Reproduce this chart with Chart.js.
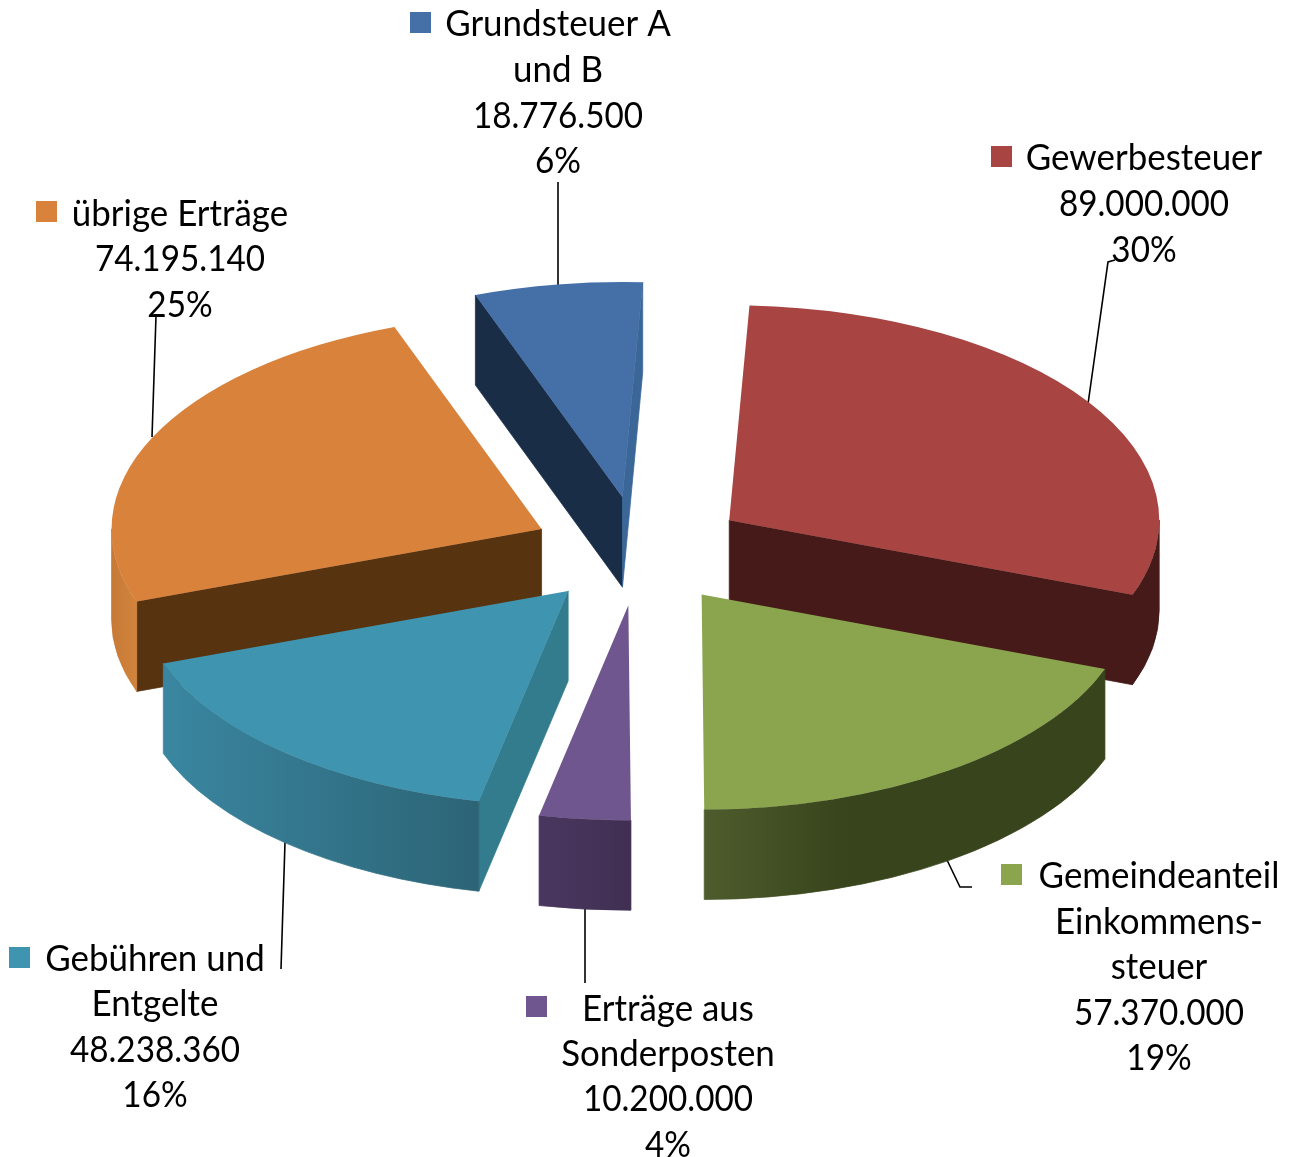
<!DOCTYPE html>
<html lang="de"><head><meta charset="utf-8">
<style>html,body{margin:0;padding:0;background:#fff}canvas{display:block}</style>
<script src="https://cdn.jsdelivr.net/npm/chart.js@4"></script>
</head><body><canvas id="c" width="1295" height="1157"></canvas>
<script>
// ---- data ----
const categories = ["Gewerbesteuer","Gemeindeanteil Einkommenssteuer","Erträge aus Sonderposten","Gebühren und Entgelte","übrige Erträge","Grundsteuer A und B"];
const values = [89000000,57370000,10200000,48238360,74195140,18776500];
const percents = ["30%","19%","4%","16%","25%","6%"];
// ---- styling ----
const topColors = ["#A84442","#8AA54D","#70568F","#3F94AF","#D8823C","#4470A7"];
const startWallColors = [null,null,null,"#327C8E","#57330F","#1A2D47"];
const endWallColors = ["#451A18",null,null,null,null,"#3A6698"];
const rimLeftColors = ["#451A18","#4E5C2D","#4A3760","#3A86A0","#C67A35","#1A2D47"];
const rimRightColors = ["#451A18","#38441C","#402F52","#2C6476","#D2843E","#1A2D47"];
const rimSettle = [1,0.35,1,1,1,1]; // fraction of the rim width over which the colour shift happens
const explode = [110,110,110,110,106,110];
const nudgeX = [0,1,2,3,0,1.5], nudgeY = [-1,-2,-1,-2,0,0];
const squash = 0.5, depth = 180;
const keyColors = topColors;
const font = '36px Lato', textScaleX = 0.97, numberScaleX = 0.925, lineColor = '#000';
// label blocks: text lines, centre x, line centre ys, key square position
const labelLines = [
 ["Gewerbesteuer"],["Gemeindeanteil","Einkommens-","steuer"],["Erträge aus","Sonderposten"],
 ["Gebühren und","Entgelte"],["übrige Erträge"],["Grundsteuer A","und B"]];
const labelCx = [1144,1159,668,155,180,558];
const labelYs = [[157,203,249],[875,921,966,1012,1057],[1008,1053,1098,1144],[958,1003,1049,1094],[213,258,304],[23,69,115,160]];
const keyPos = [[991,146],[1001,864],[526,996],[9,947],[36,201],[410,12]];
const leaders = [
 [[1115,260],[1108,262],[1088,404]],[[972,887],[960,887],[947,860]],[[585,983],[585,908]],
 [[281,969],[285,842]],[[149,316],[156,316],[152,437]],[[558,182],[558,286]]];
const fmt = v => String(v).replace(/\B(?=(\d{3})+$)/g,'.');

const pie3d = {
 id:'pie3d',
 beforeDatasetDraw(chart,args){
  const ctx = chart.ctx, arcs = args.meta.data.map((el,i)=>({el,i}));
  const mid = a => (a.el.startAngle+a.el.endAngle)/2;
  arcs.sort((a,b)=>Math.sin(mid(a))-Math.sin(mid(b)));
  ctx.save(); ctx.strokeStyle=lineColor; ctx.lineWidth=1.6;
  leaders.forEach(l=>{ctx.beginPath();l.forEach((p,k)=>k?ctx.lineTo(p[0],p[1]):ctx.moveTo(p[0],p[1]));ctx.stroke();});
  ctx.restore();
  const cy = chart.chartArea.top + chart.chartArea.height/2;
  ctx.save();
  ctx.translate(0,cy); ctx.scale(1,squash); ctx.translate(0,-cy);
  arcs.forEach(({el,i})=>{
   const m = mid({el}), dx = Math.cos(m)*explode[i]+nudgeX[i], dy = Math.sin(m)*explode[i]+nudgeY[i]/squash;
   const X = el.x, Y = el.y, R = el.outerRadius, S = el.startAngle, E = el.endAngle;
   ctx.save(); ctx.translate(dx,dy);
   const wall = (a,col)=>{
     const ox = X+R*Math.cos(a), oy = Y+R*Math.sin(a);
     ctx.fillStyle = col; ctx.strokeStyle = col; ctx.lineWidth = 1;
     ctx.beginPath(); ctx.moveTo(X,Y); ctx.lineTo(ox,oy); ctx.lineTo(ox,oy+depth); ctx.lineTo(X,Y+depth); ctx.closePath();
     ctx.fill(); ctx.stroke();
   };
   if(startWallColors[i]) wall(S,startWallColors[i]);
   const a0 = Math.max(S,0), a1 = Math.min(E,Math.PI);
   if(a1>a0){
     const g = ctx.createLinearGradient(X+R*Math.cos(a1),0,X+R*Math.cos(a0),0);
     g.addColorStop(0,rimLeftColors[i]);
     g.addColorStop(rimSettle[i],rimRightColors[i]);
     if(rimSettle[i]<1) g.addColorStop(1,rimRightColors[i]);
     ctx.fillStyle = g; ctx.strokeStyle = g; ctx.lineWidth = 1;
     ctx.beginPath(); ctx.arc(X,Y,R,a0,a1); ctx.arc(X,Y+depth,R,a1,a0,true); ctx.closePath(); ctx.fill(); ctx.stroke();
   }
   if(endWallColors[i]) wall(E,endWallColors[i]);
   el.draw(ctx);
   ctx.restore();
  });
  ctx.restore();
  return false;
 },
 afterDraw(chart){
  const ctx = chart.ctx;
  ctx.save(); ctx.font=font; ctx.fillStyle='#000'; ctx.textAlign='center'; ctx.textBaseline='middle';
  categories.forEach((c,i)=>{
   const names = labelLines[i], nums = [fmt(values[i]),percents[i]];
   [...names,...nums].forEach((t,k)=>{
    ctx.save(); ctx.translate(labelCx[i],labelYs[i][k]+1); ctx.scale(k<names.length?textScaleX:numberScaleX,1);
    ctx.fillText(t,0,0); ctx.restore();
   });
   ctx.fillStyle=keyColors[i]; ctx.fillRect(keyPos[i][0],keyPos[i][1],21,21); ctx.fillStyle='#000';
  });
  ctx.restore();
 }
};
new Chart(document.getElementById('c'),{
 type:'pie',
 data:{labels:categories,datasets:[{data:values,backgroundColor:topColors,borderWidth:0}]},
 options:{responsive:false,animation:false,rotation:2.7,radius:430,
  layout:{padding:{right:20,bottom:54}},
  plugins:{legend:{display:false},tooltip:{enabled:false}},events:[]},
 plugins:[pie3d]
});
</script></body></html>
